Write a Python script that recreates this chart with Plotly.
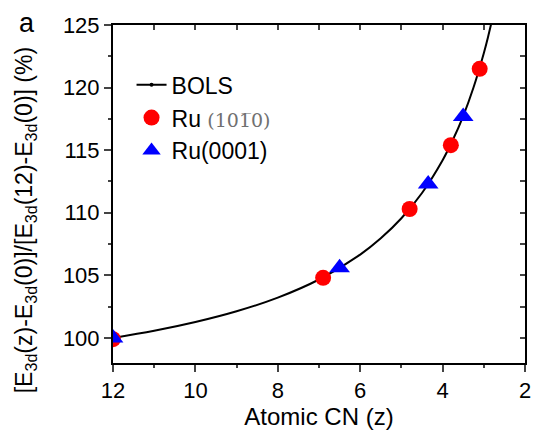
import plotly.graph_objects as go

# BOLS curve values
bols_x = [12, 11, 10, 9, 8, 7, 6, 5.5, 5, 4.5, 4, 3.75, 3.5, 3.25, 3.0, 2.9, 2.8]
bols_y = [100.0, 100.57, 101.27, 102.13, 103.22, 104.67, 106.66, 107.96, 109.56,
          111.58, 114.20, 115.83, 117.73, 120.01, 122.75, 124.01, 125.40]

ru1010_x = [12, 6.9, 4.8, 3.8, 3.1]
ru1010_y = [99.9, 104.8, 110.3, 115.4, 121.5]

ru0001_x = [12, 6.5, 4.35, 3.5]
ru0001_y = [100.0, 105.6, 112.3, 117.7]

x_ticks = [12, 10, 8, 6, 4, 2]
y_ticks = [100, 105, 110, 115, 120, 125]

FONT = "Arial, Liberation Sans, sans-serif"

fig = go.Figure()
fig.add_trace(go.Scatter(x=bols_x, y=bols_y, mode="lines", line=dict(color="black", width=2, shape="spline"),
                         showlegend=False))
fig.add_trace(go.Scatter(x=[None], y=[None], mode="lines+markers", name="BOLS",
                         line=dict(color="black", width=2), marker=dict(size=4, color="black"),
                         legendgroup="a"))
fig.add_trace(go.Scatter(x=ru1010_x, y=ru1010_y, mode="markers",
                         name="Ru <span style='font-family:DejaVu Serif, Liberation Serif, serif;color:#707070;font-size:19px'>(101\u03050)</span>",
                         marker=dict(symbol="circle", size=16, color="#ff0000"), legendgroup="b"))
fig.add_trace(go.Scatter(x=ru0001_x, y=ru0001_y, mode="markers", name="Ru(0001)",
                         marker=dict(symbol="triangle-up", size=18, color="#0000ff"), legendgroup="c"))
# helper trace for mirrored axes
fig.add_trace(go.Scatter(x=[None], y=[None], xaxis="x2", yaxis="y2", showlegend=False))

fig.update_layout(
    width=541, height=441,
    margin=dict(l=113, r=10, t=25, b=78),
    plot_bgcolor="white", paper_bgcolor="white",
    font=dict(family=FONT, size=22, color="black"),
    xaxis=dict(range=[12, 2], tickvals=x_ticks, ticks="outside", ticklen=7, tickwidth=1.5,
               showline=True, linewidth=2, linecolor="black", showgrid=False, zeroline=False,
               tickfont=dict(size=22),
               minor=dict(dtick=1, ticks="outside", ticklen=3, tickwidth=1.5, showgrid=False),
               title=dict(text="Atomic CN (z)", standoff=6, font=dict(size=24))),
    yaxis=dict(range=[98, 125], tickvals=y_ticks, ticks="outside", ticklen=7, tickwidth=1.5,
               showline=True, linewidth=2, linecolor="black", showgrid=False, zeroline=False,
               tickfont=dict(size=22),
               minor=dict(dtick=2.5, tick0=100, ticks="outside", ticklen=3, tickwidth=1.5, showgrid=False)),
    xaxis2=dict(range=[12, 2], overlaying="x", side="top", dtick=1, tick0=2, ticks="inside", ticklen=5,
                tickwidth=1.5, showticklabels=False, showline=True, linewidth=2, linecolor="black",
                showgrid=False, zeroline=False),
    yaxis2=dict(range=[98, 125], overlaying="y", side="right", dtick=2.5, tick0=100, ticks="inside", ticklen=5,
                tickwidth=1.5, showticklabels=False, showline=True, linewidth=2, linecolor="black",
                showgrid=False, zeroline=False),
    legend=dict(x=0.045, y=0.887, xanchor="left", yanchor="top", bgcolor="rgba(0,0,0,0)",
                font=dict(size=23), tracegroupgap=0, itemwidth=30),
    annotations=[
        dict(text="[E<sub>3d</sub>(z)-E<sub>3d</sub>(0)]/[E<sub>3d</sub>(12)-E<sub>3d</sub>(0)] (%)",
             xref="paper", yref="paper", x=-0.213, y=0.423, xanchor="center", yanchor="middle",
             textangle=-90, showarrow=False, font=dict(size=23)),
        dict(text="a", xref="paper", yref="paper", x=-0.234, y=1.057, xanchor="left", yanchor="top",
             showarrow=False, font=dict(size=27)),
    ],
)

fig.write_html("out.html")
